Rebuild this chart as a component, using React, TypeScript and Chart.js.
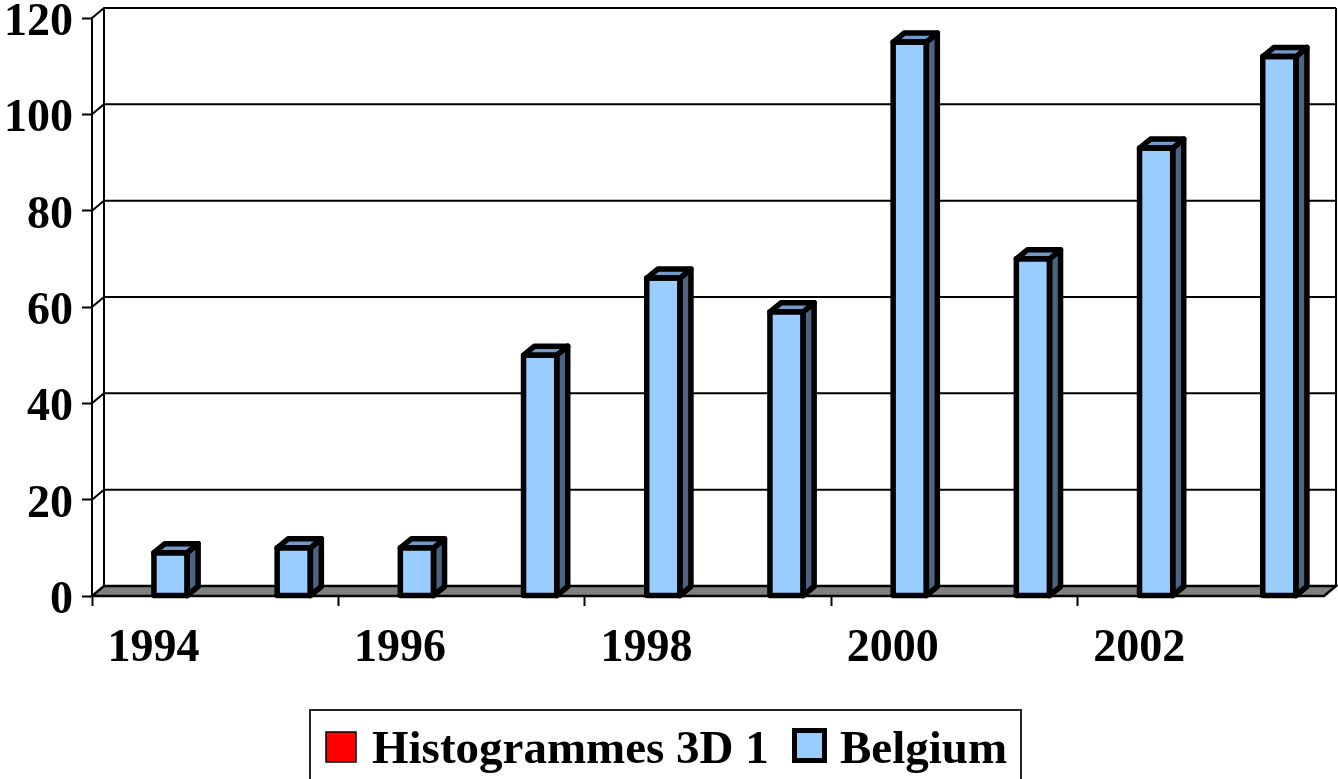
import React, { useEffect, useRef } from "react";
import { Chart, registerables } from "chart.js";

Chart.register(...registerables);

const years = ["1994", "1995", "1996", "1997", "1998", "1999", "2000", "2001", "2002", "2003"];
const histogrammesValues: (number | null)[] = [null, null, null, null, null, null, null, null, null, null];
const belgiumValues = [9, 10, 10, 50, 66, 59, 115, 70, 93, 112];
const yTickValues = [0, 20, 40, 60, 80, 100, 120];
const seriesNames = ["Histogrammes 3D 1", "Belgium"];

const FONT = "'Liberation Serif', 'Times New Roman', serif";
const DX = 12;
const DY = -10;
const BDX = 11;
const BDY = -9;

const wallPlugin = {
  id: "wall3d",
  beforeDatasetsDraw(chart: any) {
    const { ctx, chartArea } = chart;
    const { left, right, top, bottom } = chartArea;
    const y = chart.scales.y;
    ctx.save();
    ctx.strokeStyle = "#000";
    ctx.lineWidth = 2;
    ctx.lineCap = "butt";
    for (const t of y.ticks) {
      if (t.value === 0) continue;
      const py = y.getPixelForValue(t.value);
      ctx.beginPath();
      ctx.moveTo(left, py);
      ctx.lineTo(left + DX, py + DY);
      ctx.lineTo(right + DX, py + DY);
      ctx.stroke();
    }
    ctx.beginPath();
    ctx.moveTo(left + DX, top + DY);
    ctx.lineTo(left + DX, bottom + DY);
    ctx.stroke();
    ctx.beginPath();
    ctx.moveTo(right + DX, top + DY);
    ctx.lineTo(right + DX, bottom + DY);
    ctx.stroke();
    ctx.beginPath();
    ctx.moveTo(left, bottom);
    ctx.lineTo(right, bottom);
    ctx.lineTo(right + DX, bottom + DY);
    ctx.lineTo(left + DX, bottom + DY);
    ctx.closePath();
    ctx.fillStyle = "#808080";
    ctx.fill();
    ctx.lineWidth = 2.5;
    ctx.stroke();
    ctx.restore();
  },
  afterDatasetsDraw(chart: any) {
    const { ctx } = chart;
    const meta = chart.getDatasetMeta(1);
    ctx.save();
    ctx.strokeStyle = "#000";
    ctx.lineWidth = 5.5;
    ctx.lineJoin = "round";
    ctx.lineCap = "round";
    meta.data.forEach((el: any, i: number) => {
      const v = chart.data.datasets[1].data[i];
      if (v === null || v === undefined) return;
      const p = el.getProps(["x", "y", "base", "width"], true);
      const l = p.x - p.width / 2;
      const r = p.x + p.width / 2;
      const t = p.y;
      const b = p.base;
      ctx.beginPath();
      ctx.moveTo(r, t);
      ctx.lineTo(r + BDX, t + BDY);
      ctx.lineTo(r + BDX, b + BDY);
      ctx.lineTo(r, b);
      ctx.closePath();
      ctx.fillStyle = "#4C6480";
      ctx.fill();
      ctx.stroke();
      ctx.beginPath();
      ctx.moveTo(l, t);
      ctx.lineTo(l + BDX, t + BDY);
      ctx.lineTo(r + BDX, t + BDY);
      ctx.lineTo(r, t);
      ctx.closePath();
      ctx.fillStyle = "#7399C6";
      ctx.fill();
      ctx.stroke();
      ctx.beginPath();
      ctx.rect(l, t, r - l, b - t);
      ctx.stroke();
    });
    ctx.restore();
  },
  afterDraw(chart: any) {
    const { ctx } = chart;
    ctx.save();
    ctx.strokeStyle = "#222";
    ctx.lineWidth = 2;
    ctx.strokeRect(310, 710, 711, 90);
    const ds = chart.data.datasets;
    ctx.font = `bold 47px ${FONT}`;
    ctx.textBaseline = "alphabetic";
    ctx.textAlign = "left";
    ctx.fillStyle = ds[0].backgroundColor;
    ctx.fillRect(326, 732, 30, 30);
    ctx.lineWidth = 1.5;
    ctx.strokeStyle = "#000";
    ctx.strokeRect(326, 732, 30, 30);
    ctx.fillStyle = "#000";
    ctx.fillText(ds[0].label, 372, 763);
    ctx.fillStyle = ds[1].backgroundColor;
    ctx.fillRect(794.5, 730.5, 30, 30);
    ctx.lineWidth = 5;
    ctx.strokeRect(794.5, 730.5, 30, 30);
    ctx.fillStyle = "#000";
    ctx.fillText(ds[1].label, 840, 763);
    ctx.restore();
  },
};

export default function App() {
  const ref = useRef<HTMLCanvasElement | null>(null);
  useEffect(() => {
    if (!ref.current) return;
    const chart = new Chart(ref.current, {
      type: "bar",
      data: {
        labels: years,
        datasets: [
          {
            label: seriesNames[0],
            data: histogrammesValues,
            backgroundColor: "#FF0000",
            borderWidth: 0,
          },
          {
            label: seriesNames[1],
            data: belgiumValues,
            backgroundColor: "#99CCFF",
            borderWidth: 0,
          },
        ],
      },
      options: {
        animation: false,
        responsive: false,
        devicePixelRatio: 1,
        categoryPercentage: 0.55,
        barPercentage: 0.98,
        layout: { padding: { left: 0, top: 18, right: 14, bottom: 0 } },
        plugins: {
          legend: { display: false },
          tooltip: { enabled: false },
        },
        scales: {
          x: {
            offset: true,
            afterFit: (s: any) => {
              s.height = 183;
              s.paddingLeft = 0;
              s.paddingRight = 0;
            },
            grid: {
              offset: true,
              drawOnChartArea: false,
              drawTicks: true,
              tickLength: 10,
              tickWidth: 2,
              tickColor: (c: any) => (c.index % 2 === 0 ? "#000" : "rgba(0,0,0,0)"),
            },
            border: { display: true, color: "#000", width: 2 },
            ticks: {
              autoSkip: false,
              maxRotation: 0,
              minRotation: 0,
              padding: 16,
              color: "#000",
              font: { family: FONT, size: 46, weight: "bold" },
              callback: (_v: any, i: number) => (i % 2 === 0 ? years[i] : ""),
            },
          },
          y: {
            min: 0,
            max: 120,
            afterFit: (s: any) => {
              s.width = 92;
              s.paddingTop = 0;
              s.paddingBottom = 0;
            },
            afterBuildTicks: (s: any) => {
              s.ticks = yTickValues.map((v) => ({ value: v }));
            },
            grid: {
              drawOnChartArea: false,
              drawTicks: true,
              tickLength: 10,
              tickWidth: 2,
              tickColor: "#000",
            },
            border: { display: true, color: "#000", width: 2 },
            ticks: {
              padding: 9,
              labelOffset: 5,
              color: "#000",
              font: { family: FONT, size: 46, weight: "bold" },
            },
          },
        },
      },
      plugins: [wallPlugin],
    });
    return () => chart.destroy();
  }, []);
  return (
    <div style={{ position: "absolute", left: 0, top: 0, width: 1338, height: 779, background: "#fff" }}>
      <canvas ref={ref} width={1338} height={779} style={{ display: "block" }} />
    </div>
  );
}
